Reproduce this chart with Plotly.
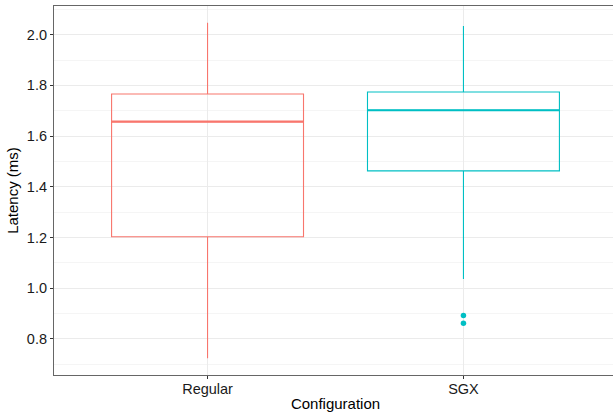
import plotly.graph_objects as go

# Data
categories = ["Regular", "SGX"]
positions = [1, 2]
colors = ["#F8766D", "#00BFC4"]
lower_whisker = [0.724, 1.037]
q1_vals = [1.203, 1.463]
median_vals = [1.657, 1.702]
q3_vals = [1.766, 1.774]
upper_whisker = [2.047, 2.034]
outlier_cat = ["SGX", "SGX"]
outlier_vals = [0.893, 0.862]

box_width = 0.75

fig = go.Figure()
for i, cat in enumerate(categories):
    fig.add_trace(go.Box(
        x=[positions[i]],
        q1=[q1_vals[i]], median=[median_vals[i]], q3=[q3_vals[i]],
        lowerfence=[lower_whisker[i]], upperfence=[upper_whisker[i]],
        width=box_width, whiskerwidth=0,
        line=dict(color=colors[i], width=1.1),
        fillcolor="rgba(0,0,0,0)",
        boxpoints=False, name=cat, showlegend=False, hoverinfo="skip",
    ))
    # thicker median line like ggplot
    fig.add_trace(go.Scatter(
        x=[positions[i] - box_width / 2, positions[i] + box_width / 2],
        y=[median_vals[i], median_vals[i]],
        mode="lines", line=dict(color=colors[i], width=2.2),
        showlegend=False, hoverinfo="skip",
    ))

ox = [positions[categories.index(c)] for c in outlier_cat]
oc = [colors[categories.index(c)] for c in outlier_cat]
fig.add_trace(go.Scatter(
    x=ox, y=outlier_vals, mode="markers",
    marker=dict(color=oc, size=5.5, line=dict(width=0)),
    showlegend=False, hoverinfo="skip",
))

# The panel continues a few pixels past the right edge of the window,
# as in the reference (which is cropped there).
fig.update_layout(
    width=617, height=415,
    margin=dict(l=54, r=0, t=6, b=40, autoexpand=False),
    paper_bgcolor="white", plot_bgcolor="white",
    font=dict(family="Liberation Sans, Arial, sans-serif", color="black"),
    showlegend=False,
)
fig.update_xaxes(
    automargin=False,
    range=[0.4, 2.6],
    tickmode="array", tickvals=positions, ticktext=categories,
    tickfont=dict(size=14.5, color="#1a1a1a"),
    ticks="outside", ticklen=3, tickcolor="#333333", tickwidth=1,
    ticklabelstandoff=-3,
    showgrid=True, gridcolor="#EBEBEB", gridwidth=1,
    showline=True, linecolor="#666666", linewidth=1.2, mirror=True,
    zeroline=False,
    title=dict(text="Configuration", font=dict(size=15), standoff=2),
)
fig.update_yaxes(
    automargin=False,
    range=[0.658, 2.113],
    tick0=0, dtick=0.2, tickformat=".1f",
    tickfont=dict(size=14.5, color="#1a1a1a"),
    ticks="outside", ticklen=3, tickcolor="#333333", tickwidth=1,
    showgrid=True, gridcolor="#EBEBEB", gridwidth=1,
    minor=dict(tick0=0.1, dtick=0.2, showgrid=True, gridcolor="#F5F5F5", gridwidth=1, ticks=""),
    showline=True, linecolor="#666666", linewidth=1.2, mirror=True,
    zeroline=False,
    title=dict(text="Latency (ms)", font=dict(size=15), standoff=4),
)

fig.write_html(
    "out.html",
    config={"displayModeBar": False},
    post_script=(
        "document.body.style.margin='0';document.body.style.padding='0';"
        "document.body.style.overflow='hidden';"
        "document.documentElement.style.overflow='hidden';"
    ),
)
